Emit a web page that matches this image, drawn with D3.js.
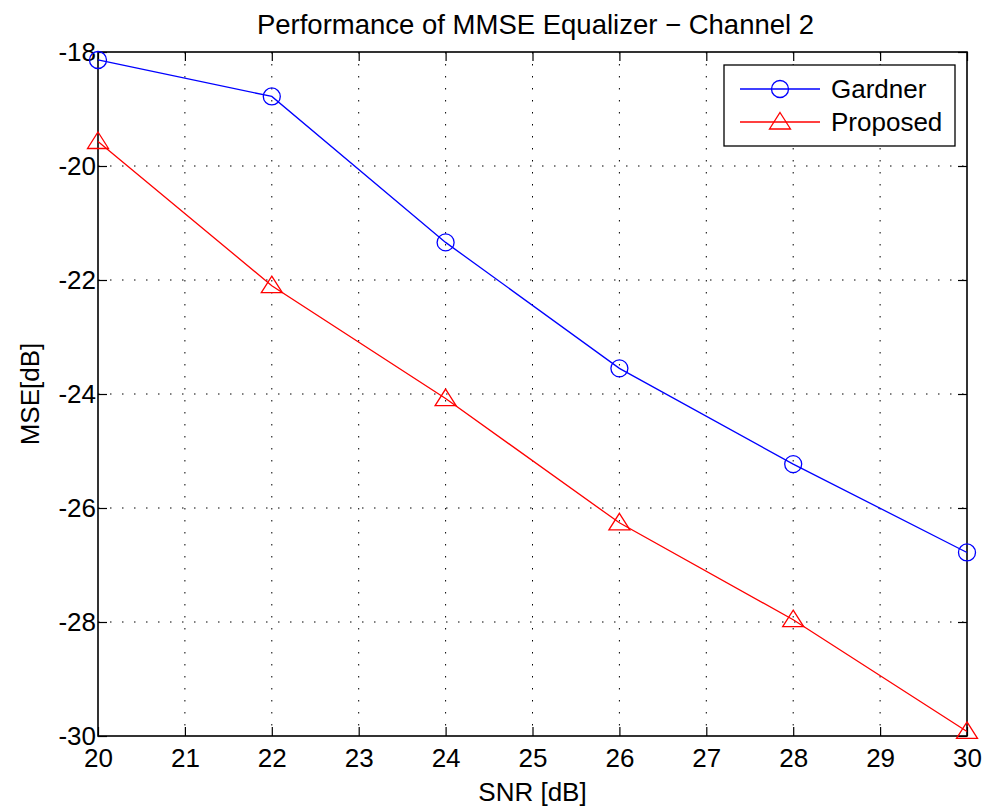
<!DOCTYPE html>
<html>
<head>
<meta charset="utf-8">
<script src="https://cdn.jsdelivr.net/npm/d3@7/dist/d3.min.js"></script>
<style>
  html, body { margin: 0; padding: 0; background: #fff; }
  svg { display: block; }
  text { font-family: "Liberation Sans", Arial, Helvetica, sans-serif; fill: #000; }
</style>
</head>
<body>
<div id="chart"></div>
<script>
const snr = [20, 22, 24, 26, 28, 30];
const gardner = [-18.14, -18.78, -21.34, -23.55, -25.23, -26.78];
const proposed = [-19.57, -22.1, -24.08, -26.26, -27.96, -29.92];
const xTicks = [20, 21, 22, 23, 24, 25, 26, 27, 28, 29, 30];
const yTicks = [-30, -28, -26, -24, -22, -20, -18];
const seriesNames = ["Gardner", "Proposed"];
const titleText = "Performance of MMSE Equalizer \u2212 Channel 2";
const xLabel = "SNR [dB]";
const yLabel = "MSE[dB]";

const W = 987, H = 807;
const m = { left: 98, right: 20, top: 52, bottom: 71 };
const pw = W - m.left - m.right, ph = H - m.top - m.bottom;
const FS = 26;

const svg = d3.select("#chart").append("svg").attr("width", W).attr("height", H);
const g = svg.append("g").attr("transform", `translate(${m.left},${m.top})`);

const x = d3.scaleLinear().domain([20, 30]).range([0, pw]);
const y = d3.scaleLinear().domain([-30, -18]).range([ph, 0]);

// grid
g.append("g").selectAll("line").data(xTicks.slice(1, -1)).join("line")
  .attr("x1", d => x(d)).attr("x2", d => x(d)).attr("y1", 0).attr("y2", ph)
  .attr("stroke", "#000").attr("stroke-width", 1).attr("stroke-dasharray", "1.5,10.5");
g.append("g").selectAll("line").data(yTicks.slice(1, -1)).join("line")
  .attr("y1", d => y(d)).attr("y2", d => y(d)).attr("x1", 0).attr("x2", pw)
  .attr("stroke", "#000").attr("stroke-width", 1).attr("stroke-dasharray", "1.5,10.5");

// axes
const fmt = d => String(d).replace("\u2212", "-");
const tl = 9;
const axB = g.append("g").attr("transform", `translate(0,${ph})`)
  .call(d3.axisBottom(x).tickValues(xTicks).tickSize(-tl).tickPadding(13).tickFormat(fmt));
const axT = g.append("g")
  .call(d3.axisTop(x).tickValues(xTicks).tickSize(-tl).tickFormat(""));
const axL = g.append("g")
  .call(d3.axisLeft(y).tickValues(yTicks).tickSize(-tl).tickPadding(2).tickFormat(fmt));
const axR = g.append("g").attr("transform", `translate(${pw},0)`)
  .call(d3.axisRight(y).tickValues(yTicks).tickSize(-tl).tickFormat(""));
[axB, axT, axL, axR].forEach(a => {
  a.select(".domain").remove();
  a.selectAll(".tick line").attr("stroke", "#000").attr("stroke-width", 1.2);
  a.selectAll(".tick text").attr("font-size", FS).attr("font-family", "Liberation Sans, Arial, sans-serif").attr("fill", "#000");
});
axL.selectAll(".tick text").attr("dy", "0.34em");

g.append("rect").attr("x", 0).attr("y", 0).attr("width", pw).attr("height", ph)
  .attr("fill", "none").attr("stroke", "#000").attr("stroke-width", 1.6);

// series
const line = d3.line().x(d => x(d[0])).y(d => y(d[1]));
const gData = snr.map((s, i) => [s, gardner[i]]);
const pData = snr.map((s, i) => [s, proposed[i]]);
const tri = "M0,-9.5L10.5,7L-10.5,7Z";

g.append("path").datum(gData).attr("d", line).attr("fill", "none").attr("stroke", "#0000ff").attr("stroke-width", 1.3);
g.append("path").datum(pData).attr("d", line).attr("fill", "none").attr("stroke", "#ff0000").attr("stroke-width", 1.3);
g.append("g").selectAll("circle").data(gData).join("circle")
  .attr("cx", d => x(d[0])).attr("cy", d => y(d[1])).attr("r", 8.5)
  .attr("fill", "none").attr("stroke", "#0000ff").attr("stroke-width", 1.3);
g.append("g").selectAll("path").data(pData).join("path")
  .attr("transform", d => `translate(${x(d[0])},${y(d[1])})`).attr("d", tri)
  .attr("fill", "none").attr("stroke", "#ff0000").attr("stroke-width", 1.3);

// title and labels
svg.append("text").attr("x", m.left + pw / 2 + 3).attr("y", 34).attr("text-anchor", "middle")
  .attr("font-size", 27.5).text(titleText);
svg.append("text").attr("x", m.left + pw / 2).attr("y", 801).attr("text-anchor", "middle")
  .attr("font-size", FS).text(xLabel);
svg.append("text").attr("transform", `translate(39,${m.top + ph / 2}) rotate(-90)`)
  .attr("text-anchor", "middle").attr("font-size", FS).text(yLabel);

// legend
const lg = svg.append("g");
lg.append("rect").attr("x", 724).attr("y", 65).attr("width", 231).attr("height", 81)
  .attr("fill", "#fff").attr("stroke", "#000").attr("stroke-width", 1.3);
const colors = ["#0000ff", "#ff0000"];
const rowY = [89, 122];
seriesNames.forEach((name, i) => {
  lg.append("line").attr("x1", 740).attr("x2", 820).attr("y1", rowY[i]).attr("y2", rowY[i])
    .attr("stroke", colors[i]).attr("stroke-width", 1.3);
  if (i === 0) {
    lg.append("circle").attr("cx", 780).attr("cy", rowY[i]).attr("r", 8.5)
      .attr("fill", "none").attr("stroke", colors[i]).attr("stroke-width", 1.3);
  } else {
    lg.append("path").attr("transform", `translate(780,${rowY[i]})`).attr("d", tri)
      .attr("fill", "none").attr("stroke", colors[i]).attr("stroke-width", 1.3);
  }
  lg.append("text").attr("x", 831).attr("y", rowY[i]).attr("dy", "0.36em")
    .attr("font-size", FS).text(name);
});
</script>
</body>
</html>
